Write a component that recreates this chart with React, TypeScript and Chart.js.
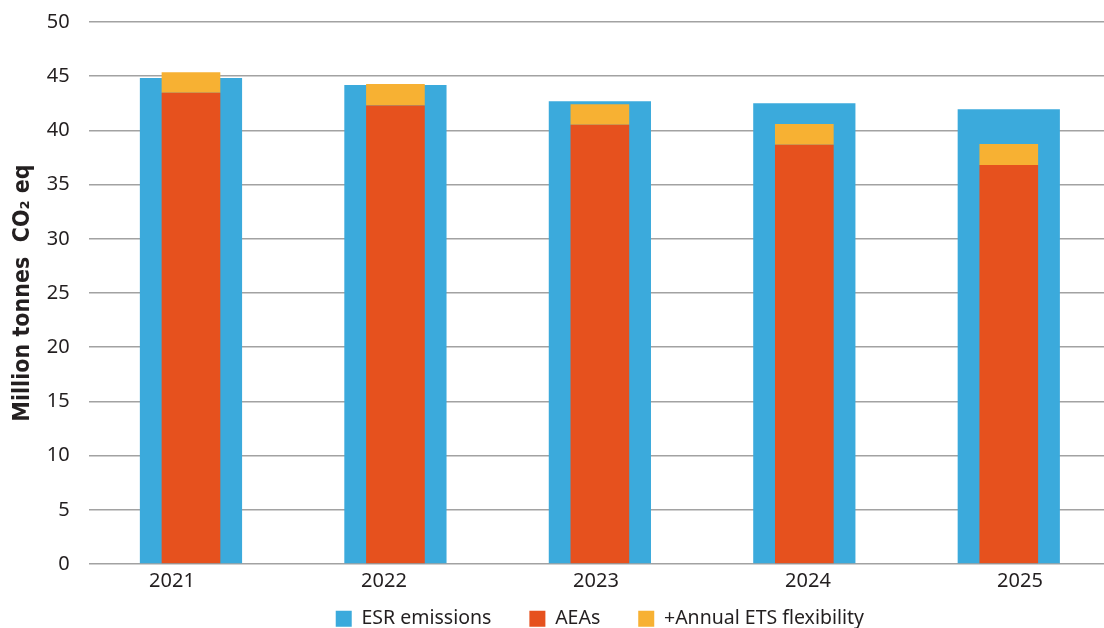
import React, { useEffect, useRef } from "react";
import { Chart, registerables } from "chart.js";

Chart.register(...registerables);

const CATEGORIES = ["2021", "2022", "2023", "2024", "2025"];
const ESR_EMISSIONS = [44.83, 44.19, 42.68, 42.5, 41.94];
const AEAS = [43.48, 42.3, 40.53, 38.68, 36.81];
const ETS_FLEX = [1.88, 1.98, 1.88, 1.91, 1.94];
const Y_TICK_STEP = 5;
const Y_MAX = 50;

const TEXT = "#231F20";
const FONT = "'Noto Sans', 'DejaVu Sans', sans-serif";

export default function App() {
  const ref = useRef<HTMLCanvasElement | null>(null);

  useEffect(() => {
    if (!ref.current) return;
    const chartLeft = 88.75;
    const chartRight = 1111;
    const labelFirst = 172;
    const labelStep = 212;
    const lMin = -(labelFirst - chartLeft) / labelStep;
    const lMax = lMin + (chartRight - chartLeft) / labelStep;

    const chart = new Chart(ref.current, {
      type: "bar",
      data: {
        labels: CATEGORIES,
        datasets: [
          {
            label: "ESR emissions",
            data: ESR_EMISSIONS,
            backgroundColor: "#3BAADC",
            borderWidth: 0,
            stack: "esr",
            grouped: false,
            barPercentage: 0.5,
            categoryPercentage: 1,
            order: 2,
          },
          {
            label: "AEAs",
            data: AEAS,
            backgroundColor: "#E6511E",
            borderWidth: 0,
            stack: "aea",
            grouped: false,
            barPercentage: 0.287,
            categoryPercentage: 1,
            order: 1,
          },
          {
            label: "+Annual ETS flexibility",
            data: ETS_FLEX,
            backgroundColor: "#F7B133",
            borderWidth: 0,
            stack: "aea",
            grouped: false,
            barPercentage: 0.287,
            categoryPercentage: 1,
            order: 1,
          },
        ],
      },
      options: {
        responsive: false,
        animation: false,
        layout: { padding: { top: 22, left: 0, right: 0, bottom: 0 } },
        plugins: {
          tooltip: { enabled: false },
          legend: {
            position: "bottom",
            fullSize: false,
            maxHeight: 57,
            labels: {
              boxWidth: 16,
              boxHeight: 16,
              padding: 38,
              color: TEXT,
              font: { family: FONT, size: 19.5 },
              sort: (a: any, b: any) => a.datasetIndex - b.datasetIndex,
            },
          },
        },
        scales: {
          x: {
            type: "category",
            display: false,
            offset: true,
          },
          xl: {
            type: "linear",
            display: true,
            position: "bottom",
            offset: false,
            min: lMin,
            max: lMax,
            grid: { display: false, drawTicks: false },
            border: { display: false },
            afterBuildTicks: (s: any) => {
              s.ticks = CATEGORIES.map((_, i) => ({ value: i }));
            },
            afterFit: (s: any) => {
              s.height = 7;
            },
            ticks: {
              display: true,
              mirror: true,
              autoSkip: false,
              maxRotation: 0,
              padding: -29,
              color: TEXT,
              font: { family: FONT, size: 20 },
              callback: (v: any) => CATEGORIES[Math.round(Number(v))] ?? "",
            },
          },
          y: {
            stacked: true,
            min: 0,
            max: Y_MAX,
            afterFit: (s: any) => {
              s.width = chartLeft;
              s.paddingTop = 0;
              s.paddingBottom = 0;
            },
            grid: {
              color: "#a2a2a2",
              lineWidth: 1.5,
              drawTicks: false,
            },
            border: { display: false },
            ticks: {
              stepSize: Y_TICK_STEP,
              padding: 19,
              color: TEXT,
              font: { family: FONT, size: 20 },
            },
            title: {
              display: true,
              text: "Million tonnes  CO₂ eq",
              color: TEXT,
              padding: { top: 9, bottom: 0 },
              font: {
                family: "'DejaVu Sans Condensed', 'Liberation Sans Narrow', sans-serif",
                size: 23,
                weight: "bold",
              },
            },
          },
        },
      },
    });
    return () => chart.destroy();
  }, []);

  return (
    <div
      style={{
        position: "fixed",
        left: 0,
        top: 0,
        width: 1104,
        height: 628,
        overflow: "hidden",
        background: "#fff",
      }}
    >
      <canvas ref={ref} width={1111} height={628} style={{ display: "block" }} />
    </div>
  );
}
